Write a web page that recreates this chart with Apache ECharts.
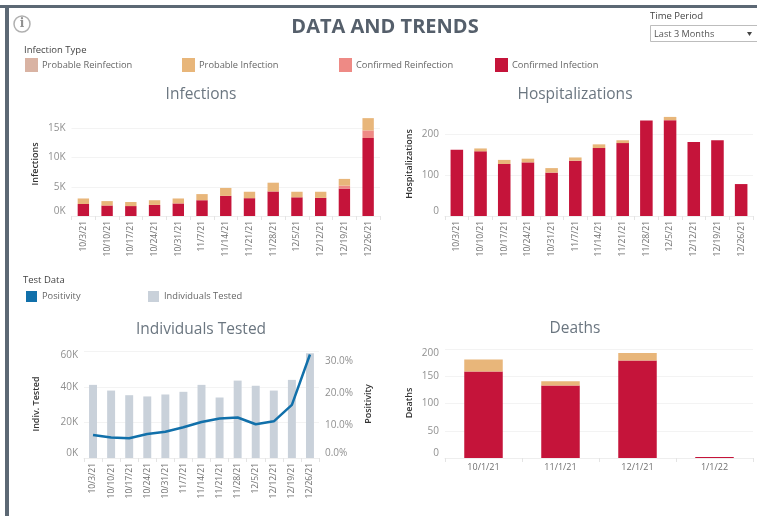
<!DOCTYPE html>
<html>
<head>
<meta charset="utf-8">
<title>Data and Trends</title>
<script src="https://cdn.jsdelivr.net/npm/echarts@6/dist/echarts.min.js"></script>
<style>
	html, body { margin: 0; padding: 0; background: #fff; }
	#main { width: 757px; height: 516px; }
</style>
</head>
<body>
<div id="main"></div>
<script>
	var weeks = ['10/3/21', '10/10/21', '10/17/21', '10/24/21', '10/31/21', '11/7/21', '11/14/21', '11/21/21', '11/28/21', '12/5/21', '12/12/21', '12/19/21', '12/26/21'];
	var months = ['10/1/21', '11/1/21', '12/1/21', '1/1/22'];

	var infConfirmed = [2050, 1800, 1700, 1900, 2150, 2700, 3450, 3050, 4200, 3200, 3100, 4700, 13350];
	var infConfirmedRe = [0, 0, 0, 0, 0, 0, 0, 0, 0, 0, 0, 500, 1300];
	var infProbable = [950, 750, 700, 800, 850, 1050, 1350, 1100, 1500, 950, 1050, 1150, 2100];

	var hospConfirmed = [162, 158, 127, 131, 106, 135, 166, 178, 233, 234, 181, 185, 78];
	var hospProbable = [0, 7, 10, 9, 11, 8, 9, 7, 0, 8, 0, 0, 0];

	var tested = [41100, 37900, 35300, 34600, 35700, 37200, 41100, 34000, 43500, 40600, 37900, 43900, 58900];
	var positivity = [7.1, 6.3, 6.1, 7.4, 8.1, 9.5, 11.1, 12.2, 12.5, 10.4, 11.3, 16.4, 31.9];

	var deathConfirmed = [159, 133, 179, 2];
	var deathProbable = [22, 8, 14, 0];

	var RED = '#c5143a', PINK = '#ee8a85', ORANGE = '#e8b67a', TAN = '#d9b3a3', BLUE = '#1170aa', GREY = '#c9d1da';
	var FONT = '"Open Sans", sans-serif';

	var infectionLegend = ['Probable Reinfection', 'Probable Infection', 'Confirmed Reinfection', 'Confirmed Infection'];
	var infectionLegendColors = [TAN, ORANGE, PINK, RED];
	var infectionLegendX = [25, 182, 339, 495];
	var testLegend = ['Positivity', 'Individuals Tested'];
	var testLegendColors = [BLUE, GREY];
	var testLegendX = [26, 148];

	function kLabel(v) {
		return (v / 1000) + 'K';
	}

	function xAxis(index, data, rotate) {
		return {
			type: 'category',
			gridIndex: index,
			data: data,
			axisLine: { lineStyle: { color: '#eeeeee' } },
			axisTick: { show: true, alignWithLabel: false, length: 4, lineStyle: { color: '#e4e4e4' } },
			axisLabel: { interval: 0, rotate: rotate, fontSize: rotate ? 8.5 : 9, margin: 5, color: '#6e6e6e', fontFamily: FONT }
		};
	}

	function yAxis(index, name, max, interval, gap, formatter, pos) {
		return {
			type: 'value',
			gridIndex: index,
			position: pos || 'left',
			name: name,
			nameLocation: 'middle',
			nameRotate: 90,
			nameGap: gap,
			nameTextStyle: { fontSize: 9, fontWeight: 600, color: '#333', fontFamily: FONT },
			min: 0,
			max: max,
			interval: interval,
			axisLine: { show: false },
			axisTick: { show: false },
			splitLine: { show: pos !== 'right', showMaxLine: false, lineStyle: { color: '#f3f3f3' } },
			axisLabel: {
				fontSize: 10,
				margin: 6,
				color: '#909090',
				fontFamily: FONT,
				formatter: formatter,
				showMaxLabel: false,
				verticalAlignMinLabel: 'bottom'
			}
		};
	}

	// top tick sits just under the axis max, so its label goes on the max tick and drops inside the plot
	function topLabelInside(axis, topTick, format) {
		axis.axisLabel.showMaxLabel = true;
		axis.axisLabel.verticalAlignMaxLabel = 'top';
		axis.axisLabel.formatter = function(v) {
			if (v === topTick) return '';
			return format(v > topTick ? topTick : v);
		};
		return axis;
	}

	function bars(name, data, color, index, stack, width) {
		return {
			name: name,
			type: 'bar',
			xAxisIndex: index,
			yAxisIndex: index,
			stack: stack,
			data: data,
			barWidth: width,
			itemStyle: { color: color }
		};
	}

	function panelTitle(text, x, y) {
		return {
			text: text,
			left: x,
			top: y,
			textAlign: 'center',
			textStyle: { fontSize: 15.5, fontWeight: 'normal', color: '#6b7680', fontFamily: FONT }
		};
	}

	function label(text, x, y, size, color) {
		return {
			type: 'text',
			x: x,
			y: y,
			style: { text: text, fontSize: size, fill: color, fontFamily: FONT, textVerticalAlign: 'middle' }
		};
	}

	function swatch(x, y, w, h, color) {
		return { type: 'rect', shape: { x: x, y: y, width: w, height: h }, style: { fill: color } };
	}

	var graphics = [
		swatch(0, 5, 757, 3, '#5c6874'),
		swatch(5, 5, 4, 511, '#5c6874'),
		{ type: 'circle', shape: { cx: 22, cy: 24, r: 8 }, style: { fill: '#fff', stroke: '#b0b0b0', lineWidth: 1.5 } },
		{ type: 'text', x: 22, y: 24, style: { text: 'i', fontSize: 12, fontWeight: 'bold', fill: '#909090', fontFamily: 'DejaVu Serif', textAlign: 'center', textVerticalAlign: 'middle' } },
		label('Time Period', 650, 16, 9.5, '#444'),
		{ type: 'rect', shape: { x: 650.5, y: 25.5, width: 110, height: 16 }, style: { fill: '#fff', stroke: '#bdbdbd', lineWidth: 1 } },
		label('Last 3 Months', 654, 34, 9.2, '#555'),
		{ type: 'polygon', shape: { points: [[747, 32], [752, 32], [749.5, 36]] }, style: { fill: '#444' } },
		label('Infection Type', 24, 50, 9.5, '#444'),
		label('Test Data', 23, 280, 9.5, '#444')
	];
	infectionLegend.forEach(function(name, i) {
		graphics.push(swatch(infectionLegendX[i], 58, 13, 14, infectionLegendColors[i]));
		graphics.push(label(name, infectionLegendX[i] + 17, 65, 9.3, '#666'));
	});
	testLegend.forEach(function(name, i) {
		graphics.push(swatch(testLegendX[i], 291, 11, 11, testLegendColors[i]));
		graphics.push(label(name, testLegendX[i] + 16, 296.5, 9.3, '#666'));
	});

	var option = {
		animation: false,
		backgroundColor: '#fff',
		title: [
			{
				text: 'DATA AND TRENDS',
				left: 380,
				top: 12,
				textAlign: 'center',
				textStyle: { fontSize: 20, fontWeight: 'bold', color: '#555f6b', fontFamily: FONT }
			},
			panelTitle('Infections', 196, 82),
			panelTitle('Hospitalizations', 570, 82),
			panelTitle('Individuals Tested', 196, 317),
			panelTitle('Deaths', 570, 316)
		],
		grid: [
			{ left: 71.5, width: 308.5, top: 112, height: 104 },
			{ left: 445, width: 308, top: 112, height: 104 },
			{ left: 84, width: 235, top: 350, height: 108 },
			{ left: 445, width: 308, top: 348, height: 110 },
			{ left: 84, width: 235, top: 350, height: 108 }
		],
		xAxis: [
			xAxis(0, weeks, 90),
			xAxis(1, weeks, 90),
			xAxis(2, weeks, 90),
			xAxis(3, months, 0),
			Object.assign(xAxis(4, weeks, 90), { show: false })
		],
		yAxis: [
			yAxis(0, 'Infections', 17800, 5000, 32, kLabel),
			yAxis(1, 'Hospitalizations', 254, 100, 31),
			topLabelInside(yAxis(2, 'Indiv. Tested', 60700, 20000, 43), 60000, kLabel),
			topLabelInside(yAxis(3, 'Deaths', 202, 50, 31), 200, String),
			yAxis(4, 'Positivity', 33.3, 10, 45, function(v) {
				return v.toFixed(1) + '%';
			}, 'right')
		],
		series: [
			bars('Confirmed Infection', infConfirmed, RED, 0, 'inf', '48%'),
			bars('Confirmed Reinfection', infConfirmedRe, PINK, 0, 'inf', '48%'),
			bars('Probable Infection', infProbable, ORANGE, 0, 'inf', '48%'),
			bars('Confirmed Infection', hospConfirmed, RED, 1, 'hosp', '53%'),
			bars('Probable Infection', hospProbable, ORANGE, 1, 'hosp', '53%'),
			bars('Individuals Tested', tested, GREY, 2, null, '44%'),
			{
				name: 'Positivity',
				type: 'line',
				xAxisIndex: 4,
				yAxisIndex: 4,
				data: positivity,
				symbol: 'none',
				z: 5,
				lineStyle: { color: BLUE, width: 2.5 }
			},
			bars('Confirmed Infection', deathConfirmed, RED, 3, 'death', '50%'),
			bars('Probable Infection', deathProbable, ORANGE, 3, 'death', '50%')
		],
		graphic: graphics
	};

	var myChart = echarts.init(document.getElementById('main'));
	myChart.setOption(option);
</script>
</body>
</html>
